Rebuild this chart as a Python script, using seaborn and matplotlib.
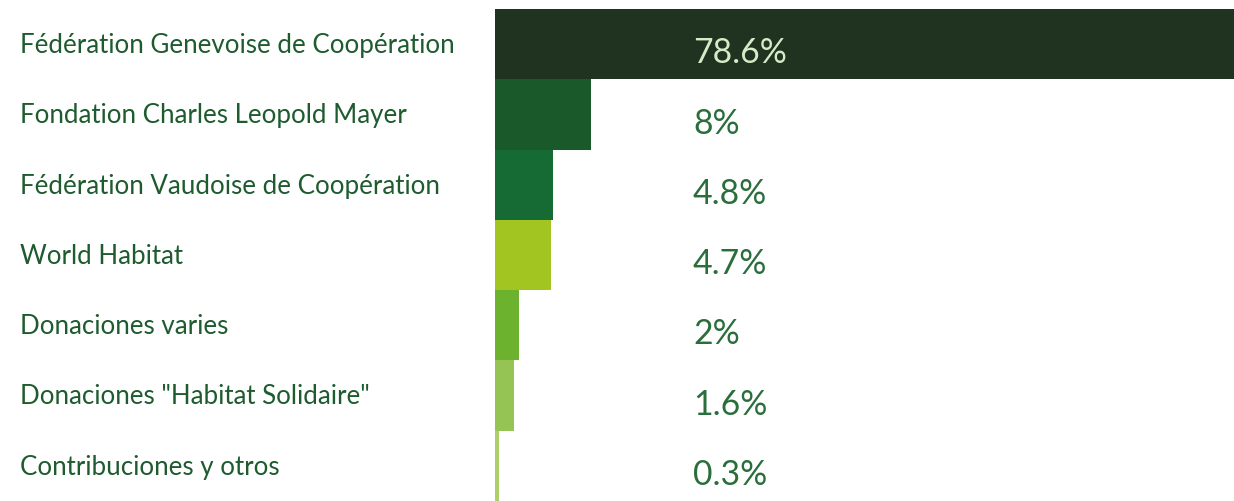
import matplotlib
matplotlib.use('Agg')
import matplotlib.pyplot as plt
import matplotlib.transforms as mtransforms
import seaborn as sns

# --- Data ---
sources = [
    'Fédération Genevoise de Coopération',
    'Fondation Charles Leopold Mayer',
    'Fédération Vaudoise de Coopération',
    'World Habitat',
    'Donaciones varies',
    'Donaciones "Habitat Solidaire"',
    'Contribuciones y otros',
]
shares = [78.6, 8, 4.8, 4.7, 2, 1.6, 0.3]
share_labels = ['78.6%', '8%', '4.8%', '4.7%', '2%', '1.6%', '0.3%']
bar_colors = ['#1f3320', '#1a5a2a', '#166b34', '#a3c521', '#6db22f', '#96c454', '#afd068']

# --- Style ---
LABEL_COLOR = '#1e5b2e'
PCT_COLOR = '#2a6e3c'
PCT_LIGHT = '#d5eac6'

sns.set_theme(style='white')
plt.rcParams['font.family'] = ['Lato', 'DejaVu Sans']

fig = plt.figure(figsize=(12.34, 5.01), dpi=100)
ax = fig.add_axes([495 / 1234, 0, 739 / 1234, 492 / 501])

sns.barplot(x=shares, y=sources, hue=sources, palette=bar_colors, legend=False,
            orient='h', width=1.0, saturation=1, linewidth=0, ax=ax)

ax.set_xlim(0, 61.6)
ax.set_ylim(6.5, -0.5)
ax.axis('off')

# category labels on the left (x in figure coords, y in data)
trans = mtransforms.blended_transform_factory(fig.transFigure, ax.transData)
for i, name in enumerate(sources):
    ax.text(20 / 1234, i + 0.02, name, transform=trans, ha='left', va='center',
            fontsize=18.6, color=LABEL_COLOR, clip_on=False)

# percentage labels
for i, lab in enumerate(share_labels):
    col = PCT_LIGHT if i == 0 else PCT_COLOR
    ax.text(16.5, i + 0.13, lab, ha='left', va='center', fontsize=24.3,
            color=col, clip_on=False)

fig.savefig('out.png', dpi=100)
